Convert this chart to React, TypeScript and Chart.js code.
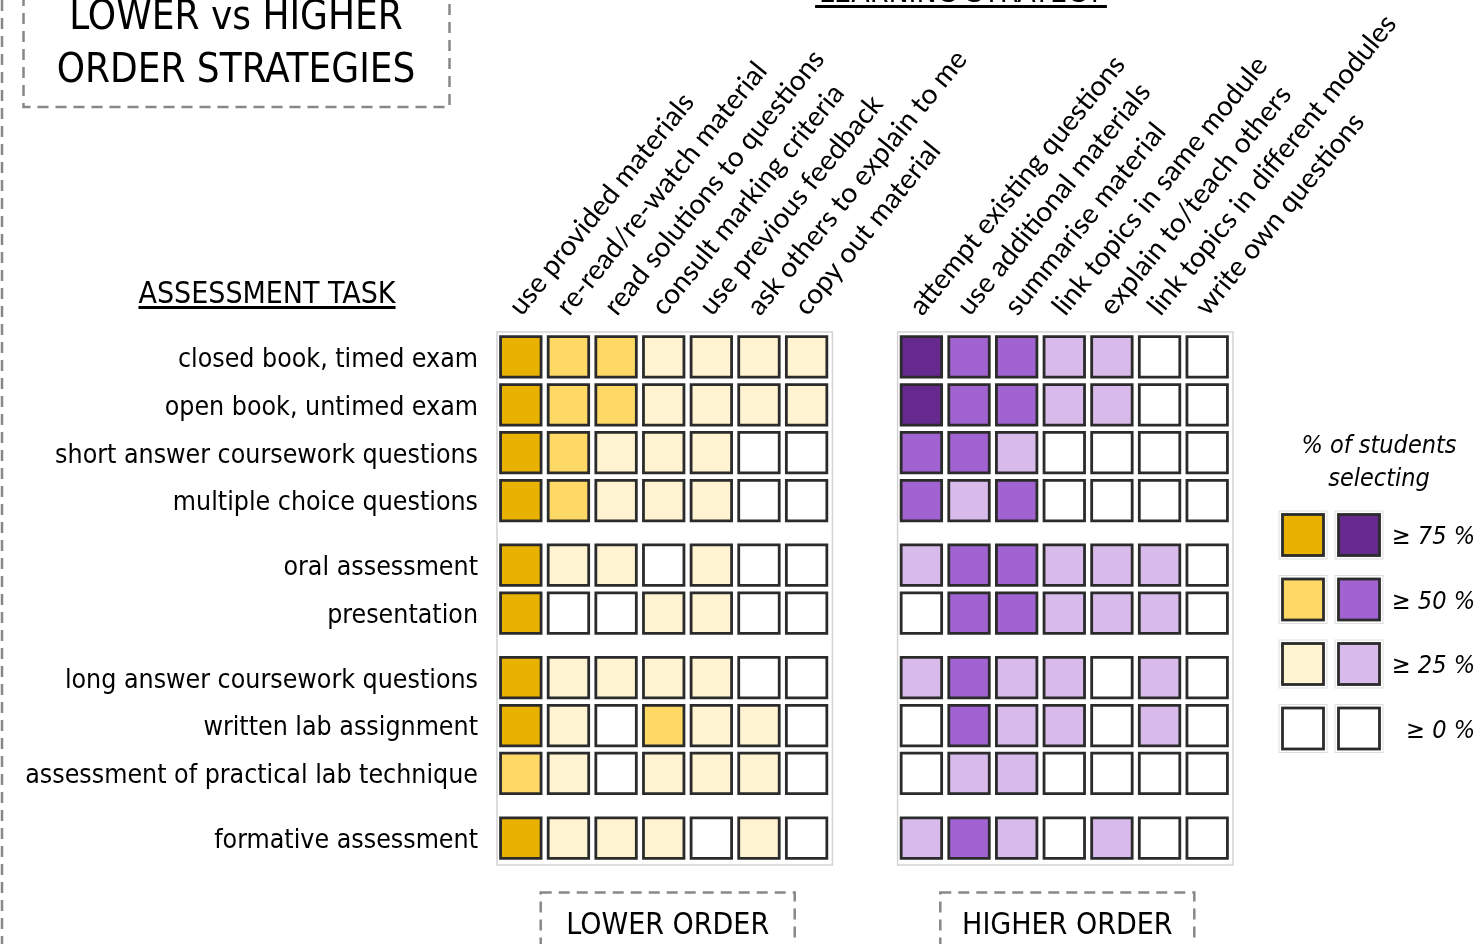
import React, { useEffect, useRef } from 'react';
import { Chart, registerables } from 'chart.js';

Chart.register(...registerables);

// ---------- data ----------
const LOWER_STRATEGIES = [
  'use provided materials',
  're-read/re-watch material',
  'read solutions to questions',
  'consult marking criteria',
  'use previous feedback',
  'ask others to explain to me',
  'copy out material',
];
const HIGHER_STRATEGIES = [
  'attempt existing questions',
  'use additional materials',
  'summarise material',
  'link topics in same module',
  'explain to/teach others',
  'link topics in different modules',
  'write own questions',
];
const TASK_GROUPS = [
  ['closed book, timed exam', 'open book, untimed exam', 'short answer coursework questions', 'multiple choice questions'],
  ['oral assessment', 'presentation'],
  ['long answer coursework questions', 'written lab assignment', 'assessment of practical lab technique'],
  ['formative assessment'],
];
// level: 3 = ≥75%, 2 = ≥50%, 1 = ≥25%, 0 = ≥0%
const LOWER_LEVELS = [
  [3, 2, 2, 1, 1, 1, 1],
  [3, 2, 2, 1, 1, 1, 1],
  [3, 2, 1, 1, 1, 0, 0],
  [3, 2, 1, 1, 1, 0, 0],
  [3, 1, 1, 0, 1, 0, 0],
  [3, 0, 0, 1, 1, 0, 0],
  [3, 1, 1, 1, 1, 0, 0],
  [3, 1, 0, 2, 1, 1, 0],
  [2, 1, 0, 1, 1, 1, 0],
  [3, 1, 1, 1, 0, 1, 0],
];
const HIGHER_LEVELS = [
  [3, 2, 2, 1, 1, 0, 0],
  [3, 2, 2, 1, 1, 0, 0],
  [2, 2, 1, 0, 0, 0, 0],
  [2, 1, 2, 0, 0, 0, 0],
  [1, 2, 2, 1, 1, 1, 0],
  [0, 2, 2, 1, 1, 1, 0],
  [1, 2, 1, 1, 0, 1, 0],
  [0, 2, 1, 1, 0, 1, 0],
  [0, 1, 1, 0, 0, 0, 0],
  [1, 2, 1, 0, 1, 0, 0],
];
const LEGEND_LEVELS = [3, 2, 1, 0];
const LEGEND_LABELS = ['≥ 75 %', '≥ 50 %', '≥ 25 %', '≥ 0 %'];
const GOLD = ['#ffffff', '#fff3d1', '#ffd966', '#e9b100'];
const PURPLE = ['#ffffff', '#d8bbea', '#a163d1', '#66298f'];

// ---------- layout constants (not data) ----------
const COL_GAP = 1.41;
const ROW_GAP = 0.35;
const COND = '"DejaVu Sans Condensed", "DejaVu Sans", sans-serif';
const ROT = 'Lato, "Open Sans", sans-serif';

const lowerX = LOWER_STRATEGIES.map((_, i) => i);
const higherX = HIGHER_STRATEGIES.map((_, j) => LOWER_STRATEGIES.length + COL_GAP + j);
const ALL_X = [...lowerX, ...higherX];
const ALL_STRATEGIES = [...LOWER_STRATEGIES, ...HIGHER_STRATEGIES];

const TASKS: string[] = [];
const TASK_Y: number[] = [];
TASK_GROUPS.forEach((g, gi) => {
  g.forEach((t) => {
    TASK_Y.push(TASKS.length + gi * ROW_GAP);
    TASKS.push(t);
  });
});

function buildPoints(levels: number[][], xs: number[]) {
  const pts: { x: number; y: number; level: number }[] = [];
  levels.forEach((row, r) => {
    row.forEach((lv, c) => {
      pts.push({ x: xs[c], y: TASK_Y[r], level: lv });
    });
  });
  return pts;
}

function cellRadius(chart: any) {
  const s = chart.scales.x;
  const pitch = s.getPixelForValue(1) - s.getPixelForValue(0);
  return (pitch * 0.85) / Math.SQRT2;
}

const decorPlugin = {
  id: 'decor',
  beforeDatasetsDraw(chart: any) {
    const { ctx, chartArea } = chart;
    const xs = chart.scales.x;
    ctx.save();
    ctx.strokeStyle = '#d4d4d4';
    ctx.lineWidth = 1.5;
    const l1 = xs.getPixelForValue(-0.5);
    const r1 = xs.getPixelForValue(LOWER_STRATEGIES.length - 0.5);
    const l2 = xs.getPixelForValue(higherX[0] - 0.5);
    const r2 = xs.getPixelForValue(higherX[higherX.length - 1] + 0.5);
    ctx.strokeRect(l1, chartArea.top - 1, r1 - l1 + 2, chartArea.bottom - chartArea.top + 4);
    ctx.strokeRect(l2, chartArea.top - 1, r2 - l2 + 2, chartArea.bottom - chartArea.top + 4);
    ctx.restore();
  },
  afterDraw(chart: any) {
    const { ctx } = chart;
    const xs = chart.scales.x;
    ctx.save();
    // dashed frames
    ctx.strokeStyle = '#888888';
    ctx.lineWidth = 2.5;
    ctx.setLineDash([11, 7]);
    ctx.beginPath();
    ctx.moveTo(2, 0);
    ctx.lineTo(2, 944);
    ctx.stroke();
    ctx.strokeRect(23.5, -20, 426, 127);
    const c1 = (xs.getPixelForValue(-0.5) + xs.getPixelForValue(LOWER_STRATEGIES.length - 0.5)) / 2 + 4;
    const c2 = (xs.getPixelForValue(higherX[0] - 0.5) + xs.getPixelForValue(higherX[higherX.length - 1] + 0.5)) / 2 + 3;
    ctx.strokeRect(c1 - 127, 892.5, 254, 80);
    ctx.strokeRect(c2 - 127, 892.5, 254, 80);
    ctx.setLineDash([]);

    ctx.fillStyle = '#000';
    ctx.textAlign = 'center';
    ctx.textBaseline = 'alphabetic';
    // title
    ctx.font = `40px ${COND}`;
    ctx.fillText('LOWER vs HIGHER', 236, 29);
    ctx.fillText('ORDER STRATEGIES', 236, 82);
    // bottom labels
    ctx.font = `30px ${COND}`;
    ctx.fillText('LOWER ORDER', c1, 934);
    ctx.fillText('HIGHER ORDER', c2, 934);
    // section headings (underlined)
    const heading = (t: string, cx: number, base: number, ext: number) => {
      ctx.fillText(t, cx, base);
      const w = ctx.measureText(t).width;
      ctx.fillRect(cx - w / 2 - ext, base + 3, w + 2 * ext, 3);
    };
    heading('ASSESSMENT TASK', 267, 303, 0);
    heading('LEARNING STRATEGY', 961, 2, 4);

    // legend
    ctx.font = `italic 25px ${COND}`;
    ctx.fillText('% of students', 1379, 453);
    ctx.fillText('selecting', 1379, 486);
    const side = 41;
    LEGEND_LEVELS.forEach((lv, i) => {
      const cy = 535 + i * 64.5;
      [
        [1303, GOLD[lv]],
        [1359, PURPLE[lv]],
      ].forEach(([cx, col]) => {
        ctx.strokeStyle = '#dddddd';
        ctx.lineWidth = 1;
        ctx.strokeRect((cx as number) - side / 2 - 3.5, cy - side / 2 - 3.5, side + 7, side + 7);
        ctx.fillStyle = col as string;
        ctx.fillRect((cx as number) - side / 2, cy - side / 2, side, side);
        ctx.strokeStyle = '#2b2b2b';
        ctx.lineWidth = 2.8;
        ctx.strokeRect((cx as number) - side / 2, cy - side / 2, side, side);
      });
      ctx.fillStyle = '#000';
      ctx.textAlign = 'right';
      ctx.font = `italic 25px ${COND}`;
      ctx.fillText(LEGEND_LABELS[i], 1475, cy + 9);
      ctx.textAlign = 'center';
    });
    ctx.restore();
  },
};

export default function App() {
  const ref = useRef<HTMLCanvasElement>(null);
  useEffect(() => {
    document.body.style.margin = '0';
    document.body.style.overflow = 'hidden';
    const canvas = ref.current!;
    const chart = new Chart(canvas, {
      type: 'scatter',
      data: {
        datasets: [
          {
            data: buildPoints(LOWER_LEVELS, lowerX),
            backgroundColor: (c: any) => GOLD[c.raw ? c.raw.level : 0],
          },
          {
            data: buildPoints(HIGHER_LEVELS, higherX),
            backgroundColor: (c: any) => PURPLE[c.raw ? c.raw.level : 0],
          },
        ] as any,
      },
      options: {
        animation: false,
        responsive: false,
        events: [],
        layout: { padding: { left: 0, top: 0, right: 247, bottom: 82 } },
        elements: {
          point: {
            pointStyle: 'rect',
            radius: (c: any) => cellRadius(c.chart),
            borderColor: '#2b2b2b',
            borderWidth: 2.8,
          } as any,
        },
        plugins: { legend: { display: false }, tooltip: { enabled: false } },
        scales: {
          x: {
            type: 'linear',
            position: 'top',
            min: -0.5,
            max: higherX[higherX.length - 1] + 0.5,
            grid: { display: false, drawTicks: false },
            border: { display: false },
            afterBuildTicks: (s: any) => {
              s.ticks = ALL_X.map((v) => ({ value: v }));
            },
            afterFit: (s: any) => {
              s.height = 333;
            },
            ticks: {
              autoSkip: false,
              minRotation: 51,
              maxRotation: 51,
              padding: 11,
              labelOffset: 20,
              color: '#000',
              font: { family: ROT, size: 28 },
              callback: (v: any) => {
                const i = ALL_X.findIndex((x) => Math.abs(x - v) < 1e-6);
                return i >= 0 ? ALL_STRATEGIES[i] : '';
              },
            },
          },
          y: {
            type: 'linear',
            reverse: true,
            min: -0.5,
            max: TASK_Y[TASK_Y.length - 1] + 0.5,
            grid: { display: false, drawTicks: false },
            border: { display: false },
            afterBuildTicks: (s: any) => {
              s.ticks = TASK_Y.map((v) => ({ value: v }));
            },
            afterFit: (s: any) => {
              s.width = 497;
            },
            ticks: {
              autoSkip: false,
              padding: 19,
              labelOffset: 3,
              color: '#000',
              font: { family: COND, size: 26.5 },
              callback: (v: any) => {
                const i = TASK_Y.findIndex((y) => Math.abs(y - v) < 1e-6);
                return i >= 0 ? TASKS[i] : '';
              },
            },
          },
        },
      },
      plugins: [decorPlugin],
    });
    return () => chart.destroy();
  }, []);
  return (
    <div style={{ width: 1478, height: 944, position: 'relative', background: '#fff' }}>
      <canvas ref={ref} width={1478} height={944} style={{ display: 'block' }} />
    </div>
  );
}
